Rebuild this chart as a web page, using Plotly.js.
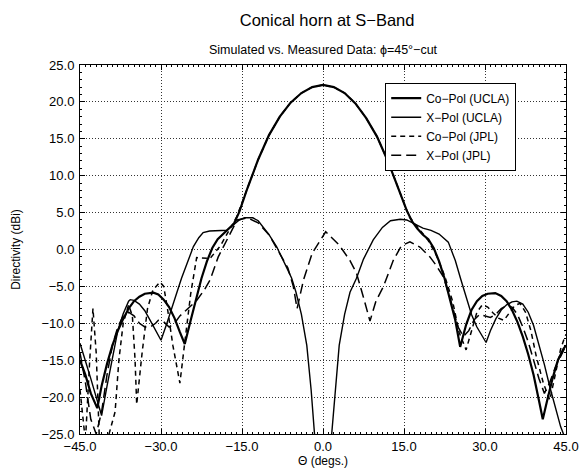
<!DOCTYPE html>
<html>
<head>
<meta charset="utf-8">
<script src="https://cdn.plot.ly/plotly-3.0.1.min.js"></script>
<style>html,body{margin:0;padding:0;background:#fff;}#chart{width:581px;height:472px;}</style>
</head>
<body>
<div id="chart"></div>
<script>
// Co-Pol (UCLA)
const coUclaX = [-45,-44,-43,-42,-41.8,-41,-40,-39,-38,-37,-36,-35,-34,-33,-32,-31.4,-30.5,-29.5,-28.5,-27.5,-26.5,-25.6,-24.5,-23.5,-22.5,-21.5,-20.5,-19.5,-18.5,-17.5,-16.5,-15.5,-14,-12,-10,-8,-6,-4,-2,0,2,4,6,8,10,12,14,15.5,16.5,17.5,18.5,19.5,20.5,21.5,22.5,23.5,24.5,25.4,26.5,27.5,28.5,29.5,30.5,31.9,33,34,35,36,37,38,39,40,40.7,41.5,42.5,43.5,44.5,45];
const coUclaY = [-15,-17,-19.5,-21.2,-21.5,-18.5,-15.5,-13,-11,-9.4,-8.0,-7.0,-6.4,-6.0,-5.85,-5.85,-6.1,-6.8,-7.8,-9.3,-11.2,-12.8,-9.6,-6.6,-3.9,-1.6,0.2,1.4,2.1,2.7,3.5,5.1,8.3,12.2,15.5,18.0,19.9,21.2,22.0,22.3,22.0,21.2,19.8,17.8,15.3,12.0,8.2,5.3,3.8,2.8,2.0,1.4,0.2,-1.6,-3.9,-6.6,-9.6,-13.2,-10.2,-8.2,-7.0,-6.3,-6.0,-5.9,-6.3,-7.0,-8.2,-9.8,-11.8,-14.2,-17,-20.5,-23,-20.5,-17.5,-15,-13.5,-13];
// X-Pol (UCLA)
const xUclaX = [-45,-44,-43,-42,-41,-40,-39,-38,-37,-36,-35.7,-35,-34,-33,-32,-31,-30,-29,-28,-27,-26.2,-25,-24,-23,-22.2,-21,-19.5,-17.8,-16.5,-15.5,-14.5,-13,-12,-11,-10,-8.6,-7.5,-6.5,-5.8,-5,-4,-3,-2.2,-1.6,-0.8,0,0.8,1.6,2.2,3,4,5,6.2,7.5,9.3,11,12.5,14.3,15.5,17,18.5,20,21.5,23.2,24.5,25.5,26.5,27.5,28.5,30.2,31,32,33,34,35,35.9,37,38,39,40,41,42,43,44,44.8];
const xUclaY = [-12.7,-15,-17.5,-20,-22.5,-18.5,-14.5,-11,-8.7,-7.0,-6.8,-6.9,-7.4,-8.3,-9.6,-11,-12.3,-10.2,-7.8,-5.7,-3.9,-1.5,0.4,1.6,2.3,2.5,2.5,2.6,3.4,4.0,4.3,4.3,3.9,3.0,2.0,0.4,-1.4,-2.8,-3.9,-5.8,-8.8,-13,-19,-25,-32,-40,-32,-25,-19,-13,-8.8,-5.8,-3.9,-1.3,1.3,3.0,3.9,4.1,4.0,3.4,2.9,2.6,2.1,1.0,-1.5,-4,-6.5,-8.8,-10.5,-12.6,-11,-9.4,-8.2,-7.5,-7.1,-7.0,-7.4,-8.5,-10.3,-12.8,-15.6,-18.6,-21.5,-24,-25.5];
// Co-Pol (JPL)
const coJplX = [-45,-44.5,-44,-43.2,-42.6,-42,-41.4,-40,-38.5,-37.8,-37,-36,-35.3,-34.8,-34.5,-33.5,-32.5,-31.5,-30.2,-29.5,-28.8,-27.8,-26.5,-25.5,-24.5,-23.4,-22,-20.9,-19,-17.5,-16,-14,-12,-10,-8,-6,-4,-2,0,2,4,6,8,10,12,14,16,18,19.5,21,22.5,24,25.2,26.5,27.5,28.5,29.5,30.5,31.5,32.5,33.5,34.5,35.5,36.5,37.5,38.5,39.5,40.8,42,43,44,44.8,45];
const coJplY = [-19,-23,-26,-15,-8,-14,-26,-26,-22,-15,-10,-7.5,-9,-15,-21,-14,-8,-5.5,-4.4,-5,-8,-13,-18.1,-12,-6,-1.1,-1.2,-1.2,0.5,2.5,4.4,8.3,12.2,15.5,18.0,19.9,21.2,22.0,22.3,22.0,21.2,19.8,17.8,15.3,12.0,8.2,4.4,2.6,1.2,-0.8,-3.5,-7,-11.2,-13.6,-11,-8.5,-7.5,-7.8,-8.6,-9.3,-9.6,-8.6,-7.6,-7.3,-8.5,-11,-14.5,-18.1,-20.4,-17,-13.5,-11.8,-11.5];
// X-Pol (JPL)
const xJplX = [-45,-44,-43,-42,-41,-40,-39,-38,-37,-36,-35,-34,-33,-32,-31,-30.5,-29.5,-28.5,-27.5,-26.5,-25,-23.5,-22,-20.9,-19.4,-17.8,-15.9,-14,-12,-10,-8.6,-6.5,-5.5,-4.8,-3.6,-2,0.5,3,5,6.2,7.5,8.7,9.8,11.2,13,14.5,16.1,18,19.8,21,22.3,23.5,25,26,27,28,29,30,31,32,33,34,35,36,37,38,39,40,41,42,43,44,45];
const xJplY = [-14,-18,-23,-25,-22,-17,-13,-10.5,-9,-8.5,-9,-10,-10.5,-10.5,-10,-9.6,-9.8,-10.5,-10,-9,-8,-7,-5.5,-4.1,-1.0,1.3,4.0,4.3,3.6,2.0,0.2,-2.5,-5,-8,-4.1,-0.5,2.4,0.6,-1.5,-3.2,-6.5,-9.7,-7,-5.0,-1.5,0.5,1.05,0.3,-1.0,-2.2,-3.7,-6.5,-10.5,-11.8,-11,-9.5,-8.8,-9,-9.2,-8.8,-8,-7.6,-7.8,-8.8,-10.5,-12.5,-15,-17.5,-19.5,-18,-16,-14.5,-13];

const xTicks = [-45, -30, -15, 0, 15, 30, 45];
const yTicks = [-25, -20, -15, -10, -5, 0, 5, 10, 15, 20, 25];

const F = 'Liberation Sans, Arial, Helvetica, sans-serif';
const fmt = v => (v < 0 ? '\u2212' : '') + Math.abs(v).toFixed(1);

const traces = [
  {x: coUclaX, y: coUclaY, name: 'Co\u2212Pol (UCLA)', mode: 'lines', line: {color: '#000', width: 2.2}},
  {x: xUclaX, y: xUclaY, name: 'X\u2212Pol (UCLA)', mode: 'lines', line: {color: '#000', width: 1.4}},
  {x: coJplX, y: coJplY, name: 'Co\u2212Pol (JPL)', mode: 'lines', line: {color: '#000', width: 1.5, dash: '5px,4px'}},
  {x: xJplX, y: xJplY, name: 'X\u2212Pol (JPL)', mode: 'lines', line: {color: '#000', width: 1.5, dash: '10px,5px'}}
];

const axisCommon = {
  showline: true, mirror: 'allticks', linecolor: '#000', linewidth: 1,
  showgrid: true, gridcolor: '#333', griddash: '1px,2px', gridwidth: 1,
  ticks: 'inside', ticklen: 5, tickcolor: '#000',
  zeroline: false, tickfont: {family: F, size: 13}
};

const layout = {
  width: 581, height: 472,
  margin: {l: 80, r: 15, t: 65, b: 38},
  paper_bgcolor: '#fff', plot_bgcolor: '#fff',
  font: {family: F, color: '#000', size: 13},
  title: {text: 'Conical horn at S\u2212Band', font: {family: F, size: 16.5, color: '#000'}, x: 0.563, xanchor: 'center', y: 0.958, yanchor: 'middle'},
  annotations: [
    {text: 'Simulated vs. Measured Data: \u03d5=45\u00b0\u2212cut', xref: 'paper', yref: 'paper', x: 0.5, y: 1.0, yshift: 24, showarrow: false, font: {family: F, size: 12.5, color: '#000'}}
  ],
  xaxis: Object.assign({}, axisCommon, {
    range: [-45, 45], tickvals: xTicks, ticktext: xTicks.map(fmt),
    minor: {dtick: 1, ticks: 'inside', ticklen: 2, tickcolor: '#000', showgrid: false},
    title: {text: '\u0398 (degs.)', font: {family: F, size: 12}, standoff: 4}
  }),
  yaxis: Object.assign({}, axisCommon, {
    range: [-25, 25], tickvals: yTicks, ticktext: yTicks.map(fmt),
    minor: {dtick: 1, ticks: 'inside', ticklen: 2, tickcolor: '#000', showgrid: false},
    ticklabelstandoff: 2,
    title: {text: 'Directivity (dBi)', font: {family: F, size: 12}, standoff: 18}
  }),
  showlegend: true,
  legend: {x: 0.628, y: 0.952, xanchor: 'left', yanchor: 'top', bgcolor: '#fff', bordercolor: '#000', borderwidth: 1, font: {family: F, size: 12}, tracegroupgap: 0, itemwidth: 30}
};

Plotly.newPlot('chart', traces, layout, {displayModeBar: false, staticPlot: true});
</script>
</body>
</html>
